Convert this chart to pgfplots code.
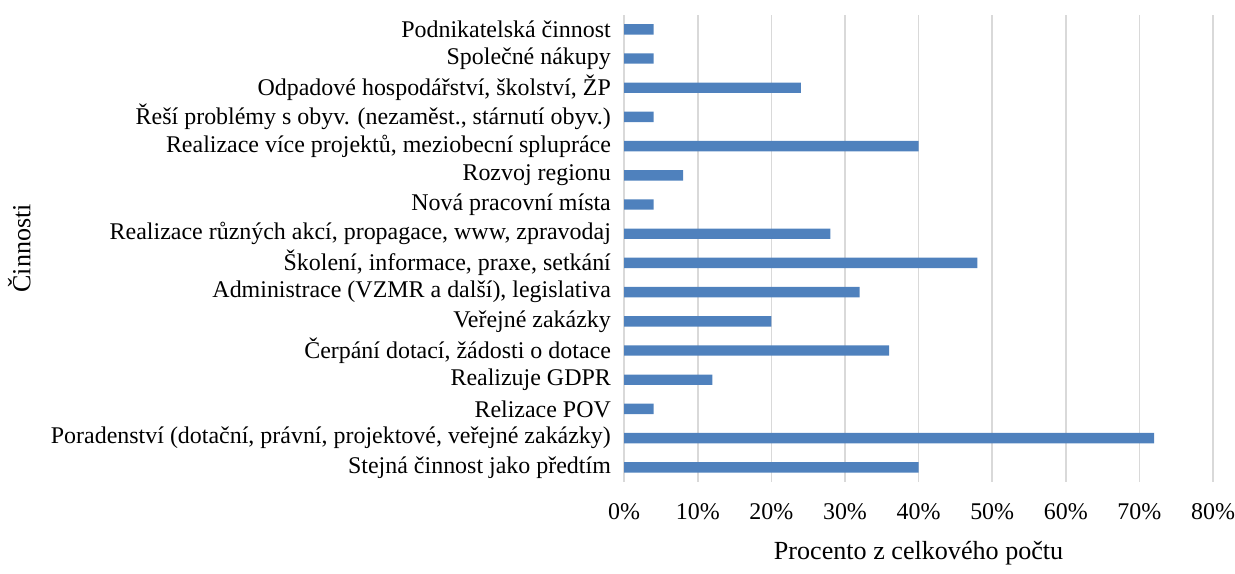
\documentclass[border=0pt]{standalone}
\usepackage{fontspec}
\setmainfont{Liberation Serif}
\usepackage{pgfplots}
\pgfplotsset{compat=1.18}
\definecolor{barblue}{HTML}{4F81BD}
\definecolor{gridgray}{HTML}{D9D9D9}

\begin{document}
\fontsize{12.2}{14}\selectfont
\begin{tikzpicture}
\begin{axis}[
    scale only axis,
    width=300pt,
    height=238pt,
    xbar,
    bar width=5.3pt,
    xmin=0, xmax=80,
    ymin=-0.5, ymax=15.5,
    xtick={0,10,...,80},
    xticklabel={\pgfmathprintnumber{\tick}\%},
    /pgf/number format/assume math mode=true,
    ytick={0,...,15},
    yticklabels={
        Stejná činnost jako předtím,
        {Poradenství (dotační, právní, projektové, veřejné zakázky)},
        Relizace POV,
        Realizuje GDPR,
        {Čerpání dotací, žádosti o dotace},
        Veřejné zakázky,
        {Administrace (VZMR a další), legislativa},
        {Školení, informace, praxe, setkání},
        {Realizace různých akcí, propagace, www, zpravodaj},
        Nová pracovní místa,
        Rozvoj regionu,
        {Realizace více projektů, meziobecní spluprác{e}},
        {Řeší problémy s obyv. (nezaměst., stárnutí obyv.)},
        {Odpadové hospodářství, školství, ŽP},
        Společné nákupy,
        Podnikatelská činnost},
    major tick length=0pt,
    axis line style={draw=none},
    xmajorgrids,
    grid style={gridgray, line width=0.8pt},
    yticklabel style={font=\fontsize{12.2}{14}\selectfont, xshift=-2.5pt},
    xticklabel style={font=\fontsize{12.2}{14}\selectfont, inner xsep=0pt, yshift=-7pt},
    xlabel={Procento z celkového počtu},
    ylabel={Činnosti},
    xlabel style={font=\fontsize{13.3}{15}\selectfont, yshift=-2.5pt},
    ylabel style={font=\fontsize{13.3}{15}\selectfont, yshift=2pt},
    extra description/.code={\path (rel axis cs:0,1) ++(0pt,7.5pt);},
]
\addplot[fill=barblue, draw=none] coordinates {
    (40,0) (72,1) (4,2) (12,3) (36,4) (20,5) (32,6) (48,7)
    (28,8) (4,9) (8,10) (40,11) (4,12) (24,13) (4,14) (4,15)
};
\end{axis}
\end{tikzpicture}
\end{document}
